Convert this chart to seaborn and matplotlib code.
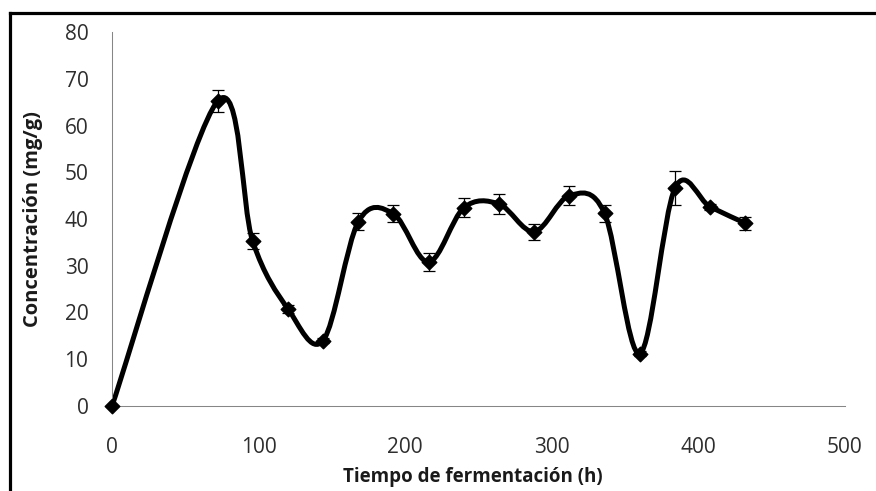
import numpy as np
import pandas as pd
import matplotlib
matplotlib.use("Agg")
import matplotlib.pyplot as plt
import seaborn as sns
from matplotlib.path import Path
from matplotlib.patches import PathPatch
from matplotlib.lines import Line2D

# Fermentation time (h), measured concentration (mg/g) and its standard deviation
tiempo_h = [0, 72, 96, 120, 144, 168, 192, 216, 240, 264, 288, 312, 336, 360, 384, 408, 432]
concentracion = [0, 65.2, 35.2, 20.8, 14.0, 39.4, 41.1, 30.8, 42.4, 43.2, 37.3, 45.0,
                 41.2, 11.2, 46.6, 42.6, 39.1]
desviacion = [0, 2.4, 1.7, 0.8, 0.5, 1.8, 1.8, 2.0, 2.0, 2.1, 1.7, 2.0, 1.8, 0.5, 3.7, 0.7, 1.4]

x_ticks = [0, 100, 200, 300, 400, 500]
y_ticks = [0, 10, 20, 30, 40, 50, 60, 70, 80]

df = pd.DataFrame({"t": tiempo_h, "c": concentracion, "sd": desviacion})

sns.set_theme(style="white")
plt.rcParams["font.family"] = ["Open Sans", "DejaVu Sans"]

W, H = 876, 491
fig = plt.figure(figsize=(W / 100, H / 100), dpi=100)
ax = fig.add_axes([112 / W, 85 / H, 733 / W, 374 / H])


def smooth_path(xs, ys):
    """Cubic Bezier path through the points (Catmull-Rom style control points)."""
    p = np.column_stack([xs, ys]).astype(float)
    n = len(p)
    verts = [p[0]]
    codes = [Path.MOVETO]
    for i in range(n - 1):
        prev = p[i - 1] if i > 0 else p[i]
        nxt = p[i + 2] if i + 2 < n else p[i + 1]
        c1 = p[i] + (p[i + 1] - prev) / 6.0
        c2 = p[i + 1] - (nxt - p[i]) / 6.0
        verts += [c1, c2, p[i + 1]]
        codes += [Path.CURVE4] * 3
    return Path(np.array(verts), codes)


curve = PathPatch(smooth_path(df["t"], df["c"]), facecolor="none", edgecolor="black",
                  lw=3.6, capstyle="round", joinstyle="round", zorder=2)
ax.add_patch(curve)

ax.errorbar(df["t"], df["c"], yerr=df["sd"], fmt="none", ecolor="black",
            elinewidth=0.9, capsize=4.5, capthick=0.9, zorder=3)

sns.scatterplot(data=df, x="t", y="c", marker="D", s=55, color="black",
                edgecolor="black", linewidth=1, zorder=4, clip_on=False,
                legend=False, ax=ax)

ax.set_xlim(0, 500)
ax.set_ylim(0, 80)
ax.set_xticks(x_ticks)
ax.set_yticks(y_ticks)
ax.tick_params(axis="both", length=0, labelsize=15, labelcolor="#2e2e2e")
ax.tick_params(axis="y", pad=17)
ax.tick_params(axis="x", pad=22)

for side in ("top", "right"):
    ax.spines[side].set_visible(False)
for side in ("left", "bottom"):
    ax.spines[side].set_color("#868686")
    ax.spines[side].set_linewidth(0.75)

ax.set_xlabel("Tiempo de fermentación (h)", fontsize=13.5, fontweight="bold", color="#1a1a1a")
ax.set_ylabel("Concentración (mg/g)", fontsize=14.5, fontweight="bold", color="#1a1a1a")
ax.xaxis.set_label_coords(0.4925, -0.163)
ax.yaxis.set_label_coords(-0.094, 0.5)

# Outer frame: heavy rule on the left and top edges
fig.add_artist(Line2D([9.5 / W, 9.5 / W], [0, 1 - 12.5 / H], transform=fig.transFigure,
                      color="black", lw=2.3, solid_capstyle="projecting"))
fig.add_artist(Line2D([9.5 / W, 1], [1 - 12.5 / H, 1 - 12.5 / H], transform=fig.transFigure,
                      color="black", lw=2.3, solid_capstyle="projecting"))

fig.savefig("out.png", dpi=100)
